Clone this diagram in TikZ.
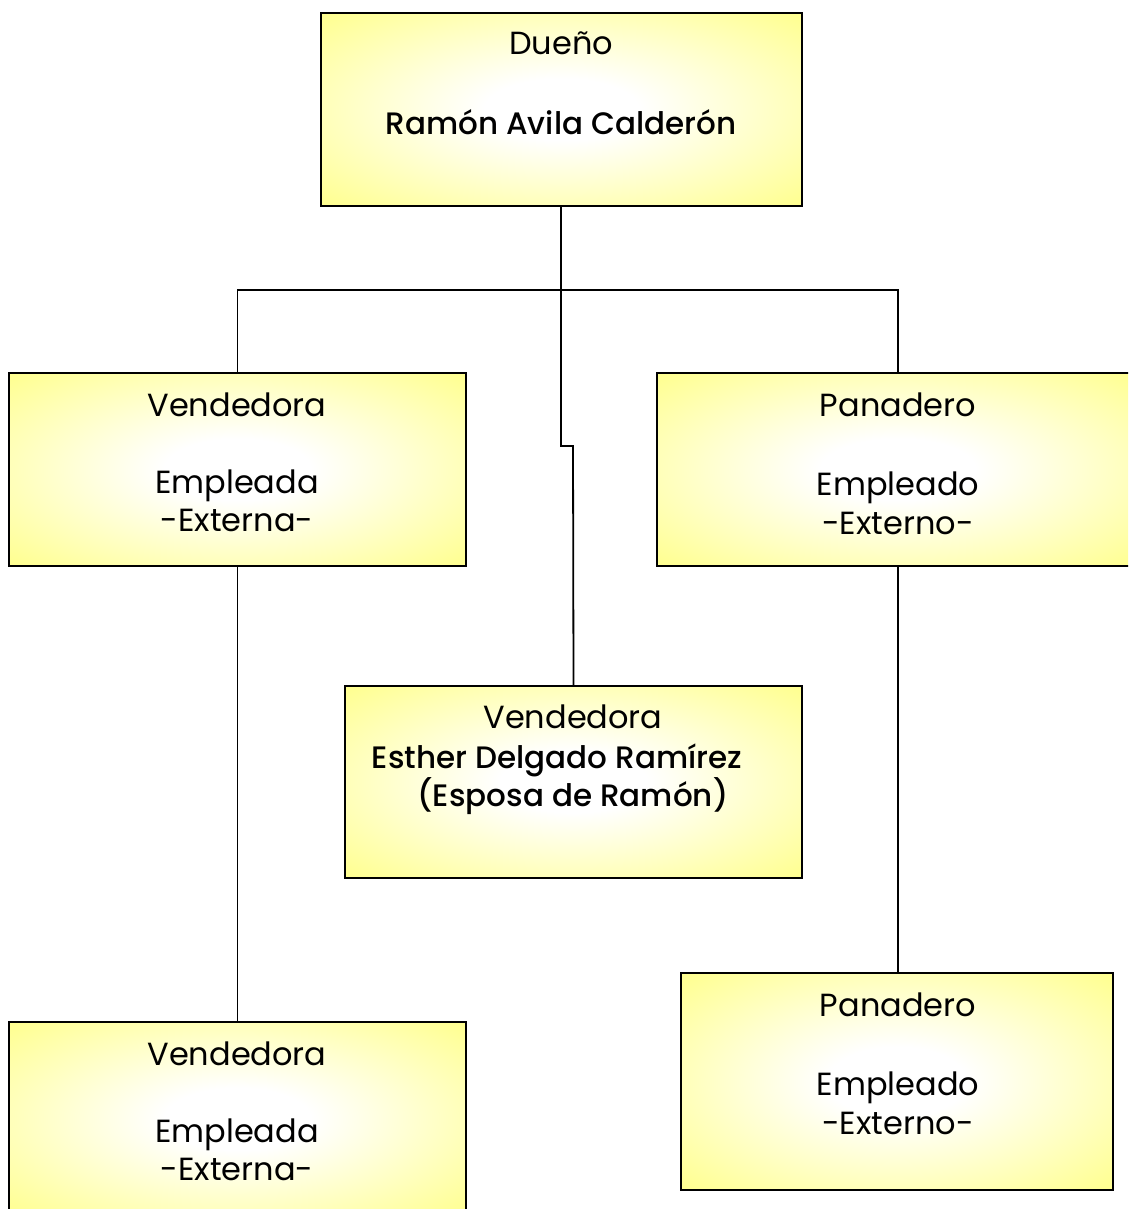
\documentclass[tikz,border=0pt]{standalone}
\usepackage{fontspec}
\setmainfont{Poppins}[BoldFont={Poppins Medium}]
\usetikzlibrary{calc}
\definecolor{boxyellow}{RGB}{255,255,140}
\pgfdeclareradialshading{boxglow}{\pgfpoint{0bp}{0bp}}{%
  color(0bp)=(white); color(8bp)=(white); color(36bp)=(boxyellow); color(50bp)=(boxyellow)}
\tikzset{
  orgbox/.style={draw=black, line width=1.9pt, shading=boxglow, rectangle, inner sep=0pt},
  txt/.style={anchor=base, font=\fontsize{32}{36}\selectfont, text=black, inner sep=0pt},
  btxt/.style={txt, font=\fontsize{31}{36}\selectfont\bfseries},
  link/.style={draw=black, line width=1.8pt},
}
\begin{document}
\begin{tikzpicture}[x=1pt, y=-1pt]
  \useasboundingbox (0,0) rectangle (1128,1209);
  \clip (0,0) rectangle (1128,1209);
  \fill[white] (0,0) rectangle (1128,1209);

  % boxes
  \path[orgbox] (321,13) rectangle (802,206);
  \node[minimum width=481pt, minimum height=193pt] (owner) at (561.5,109.5) {};
  \path[orgbox] (9,373) rectangle (466,566);
  \node[minimum width=457pt, minimum height=193pt] (sellA) at (237.5,469.5) {};
  \path[orgbox] (657,373) rectangle (1139,566);
  \node[minimum width=482pt, minimum height=193pt] (bakerA) at (898,469.5) {};
  \path[orgbox] (345,686) rectangle (802,878);
  \node[minimum width=457pt, minimum height=192pt] (wife) at (573.5,782) {};
  \path[orgbox] (9,1022) rectangle (466,1216);
  \node[minimum width=457pt, minimum height=194pt] (sellB) at (237.5,1119) {};
  \path[orgbox] (681,973) rectangle (1113,1190);
  \node[minimum width=432pt, minimum height=217pt] (bakerB) at (897,1081.5) {};

  % connectors
  \coordinate (hub) at (561,290);
  \coordinate (jogA) at (561,446);
  \coordinate (jogB) at (573,446);
  \draw[link, line width=2.6pt] (owner.south -| hub) -- (hub);
  \draw[link] (sellA.north) |- (hub) -| (bakerA.north);
  \draw[link] (hub) -- (jogA) -- (jogB) -- (wife.north);
  \draw[link] (sellA.south) -- (sellB.north);
  \draw[link] (bakerA.south) -- (bakerA.south |- bakerB.north);

  % texts
  \node[txt] (t1) at (561,55) {Dueño};
  \node[btxt] (t2) at (561,135) {Ramón Avila Calderón};

  \node[txt] (t3) at (237,416) {Vendedora};
  \node[txt] (t4) at (237,493) {Empleada};
  \node[txt] (t5) at (237,531) {-Externa-};

  \node[txt] (t6) at (898,416) {Panadero};
  \node[txt] (t7) at (898,495) {Empleado};
  \node[txt] (t8) at (898,534) {-Externo-};

  \node[txt] (t9) at (573,728) {Vendedora};
  \node[btxt] (t10) at (557,768) {Esther Delgado Ramírez};
  \node[btxt] (t11) at (573,806) {(Esposa de Ramón)};

  \node[txt] (t12) at (237,1065) {Vendedora};
  \node[txt] (t13) at (237,1142) {Empleada};
  \node[txt] (t14) at (237,1180) {-Externa-};

  \node[txt] (t15) at (898,1016) {Panadero};
  \node[txt] (t16) at (898,1095) {Empleado};
  \node[txt] (t17) at (898,1134) {-Externo-};
\end{tikzpicture}
\end{document}
